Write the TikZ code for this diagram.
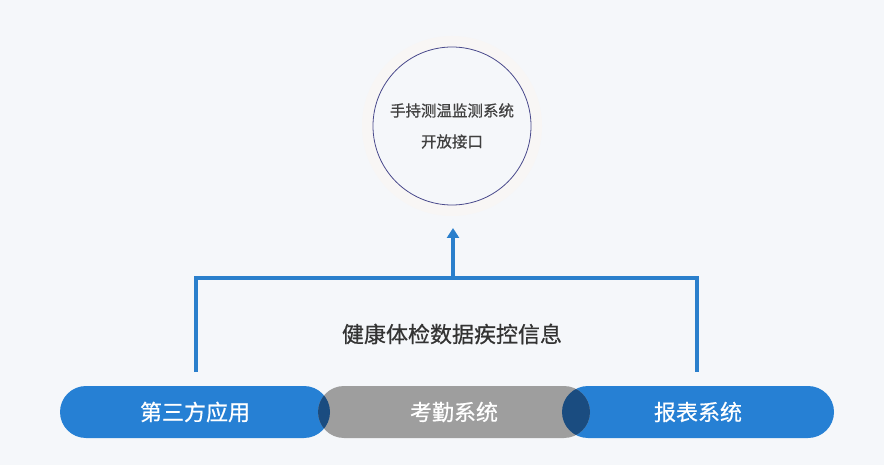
\documentclass[tikz,border=0pt]{standalone}
\usepackage{fontspec}
\newfontfamily\cjk[FakeBold=0.6]{Noto Sans CJK SC}
\usetikzlibrary{arrows.meta}
\definecolor{bg}{HTML}{F5F7FA}
\definecolor{bl}{HTML}{2680D4}
\definecolor{dk}{HTML}{1A4C80}
\definecolor{gr}{HTML}{9E9E9E}
\definecolor{ln}{HTML}{2A7FCC}
\definecolor{cir}{HTML}{4A4A8C}
\definecolor{halo}{HTML}{F8F6F5}
\tikzset{pill/.style={rounded corners=26pt,minimum height=52pt,inner sep=0pt},
 btxt/.style={font=\cjk\fontsize{22}{22}\selectfont,text=white},
 conn/.style={ln,line width=3.5pt}}
\begin{document}
\begin{tikzpicture}[x=1pt,y=-1pt]
\useasboundingbox (0,0) rectangle (884,465);
\fill[bg] (0,0) rectangle (884,465);
\fill[halo] (452,126) circle (90);
\node[circle,draw=cir,line width=0.8pt,fill=bg,minimum size=158pt,inner sep=0pt,align=center,font=\cjk\fontsize{15.5}{31}\selectfont,text=black!75] (c) at (452,126) {手持测温监测系统\\开放接口};
\node[pill,fill=bl,minimum width=270pt] (a) at (195,412) {};
\node[pill,fill=bl,minimum width=272pt] (b) at (698,412) {};
\node[pill,fill=gr,minimum width=272pt] (g) at (454,412) {};
\begin{scope}
\clip[rounded corners=26pt] (318,386) rectangle (590,438);
\fill[dk,rounded corners=26pt] (60,386) rectangle (330,438);
\fill[dk,rounded corners=26pt] (562,386) rectangle (834,438);
\end{scope}
\node[btxt] at (195,412) {第三方应用};
\node[btxt] at (454,412) {考勤系统};
\node[btxt] at (698,412) {报表系统};
\coordinate (l) at (196,372);
\coordinate (r) at (697,372);
\coordinate (m) at (453,278);
\coordinate (t) at (453,228);
\draw[conn] (l) |- (m) -| (r);
\draw[conn,-{Triangle[length=10pt,width=12pt]}] (m) -- (t);
\node[font=\cjk\fontsize{22}{22}\selectfont,text=black!80] (h) at (452,334) {健康体检数据疾控信息};
\end{tikzpicture}
\end{document}
